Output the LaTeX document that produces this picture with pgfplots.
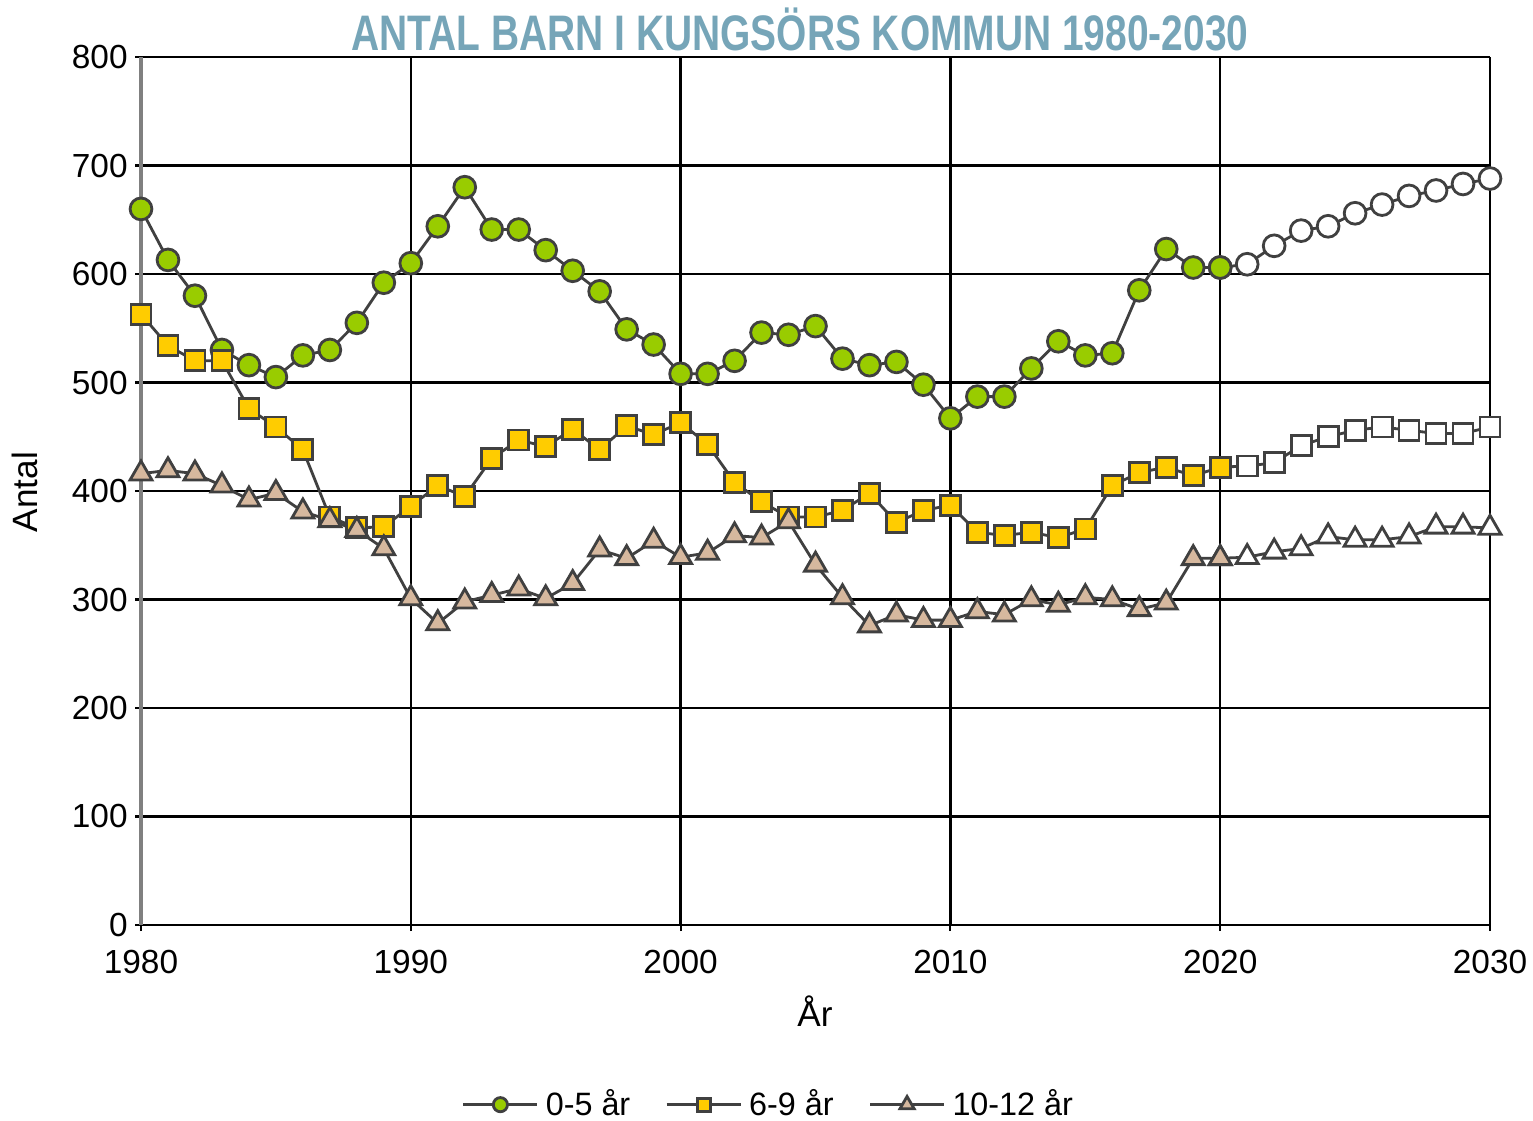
\documentclass[border=0pt]{standalone}
\usepackage{fontspec}
\setmainfont{Liberation Sans}
\newfontfamily\titlefont{Liberation Sans}[FakeStretch=0.78]
\usepackage{pgfplots}
\pgfplotsset{compat=1.18}
\definecolor{cgreen}{RGB}{153,204,0}
\definecolor{cyellow}{RGB}{255,204,0}
\definecolor{ctan}{RGB}{214,184,158}
\definecolor{cedge}{RGB}{64,64,64}
\definecolor{ctitle}{RGB}{118,165,184}
\begin{document}
\begin{tikzpicture}
\begin{axis}[
  scale only axis, width=134.9mm, height=86.8mm,
  at={(0,0)}, anchor=south west,
  xmin=1980, xmax=2030, ymin=0, ymax=800,
  xtick={1980,1990,...,2030}, ytick={0,100,...,800},
  axis lines=left, axis line style={-},
  x axis line style={black, line width=0.7pt},
  y axis line style={gray, line width=1.4pt},
  grid=major, major grid style={black, line width=0.7pt},
  tick style={black, line width=0.6pt}, tick align=center, major tick length=1.2mm,
  xticklabel style={font=\fontsize{9.5}{10}\selectfont, yshift=-0.7mm},
  yticklabel style={font=\fontsize{9.5}{10}\selectfont, xshift=0.5mm},
  /pgf/number format/assume math mode=true,
  /pgf/number format/set thousands separator={},
  clip=false,
  legend columns=3,
  legend style={at={(0.467,-0.207)}, anchor=center, draw=none, fill=none,
    font=\fontsize{9.2}{10}\selectfont, /tikz/every even column/.append style={column sep=2.8mm}},
  legend image code/.code={\draw[mark repeat=2,mark phase=2,#1,every mark/.append style={scale=0.65}] plot coordinates {(0cm,0cm) (0.37cm,0cm) (0.74cm,0cm)};},
  every axis plot/.append style={line width=0.8pt, color=cedge},
]
% projections (white markers)
\addplot[forget plot, mark=*, mark size=3.1pt, mark options={fill=white, draw=cedge, line width=0.8pt}] coordinates {
(2020,606)(2021,609)(2022,626)(2023,640)(2024,644)(2025,656)(2026,664)(2027,672)(2028,677)(2029,683)(2030,688)};
\addplot[forget plot, mark=square*, mark size=2.85pt, mark options={fill=white, draw=cedge, line width=0.8pt}] coordinates {
(2020,422)(2021,423)(2022,426)(2023,442)(2024,450)(2025,456)(2026,459)(2027,456)(2028,453)(2029,453)(2030,459)};
\addplot[forget plot, mark=triangle*, mark size=3.6pt, mark options={fill=white, draw=cedge, line width=0.8pt}] coordinates {
(2020,338)(2021,339)(2022,344)(2023,347)(2024,358)(2025,355)(2026,355)(2027,358)(2028,367)(2029,367)(2030,366)};
% history
\addplot[mark=*, mark size=3.1pt, mark options={fill=cgreen, draw=cedge, line width=0.8pt}] coordinates {
(1980,660)(1981,613)(1982,580)(1983,530)(1984,516)(1985,505)(1986,525)(1987,530)(1988,555)(1989,592)
(1990,610)(1991,644)(1992,680)(1993,641)(1994,641)(1995,622)(1996,603)(1997,584)(1998,549)(1999,535)
(2000,508)(2001,508)(2002,520)(2003,546)(2004,544)(2005,552)(2006,522)(2007,516)(2008,519)(2009,498)
(2010,467)(2011,487)(2012,487)(2013,513)(2014,538)(2015,525)(2016,527)(2017,585)(2018,623)(2019,606)(2020,606)};
\addlegendentry{0-5 år}
\addplot[mark=square*, mark size=2.85pt, mark options={fill=cyellow, draw=cedge, line width=0.8pt}] coordinates {
(1980,563)(1981,534)(1982,520)(1983,520)(1984,476)(1985,459)(1986,438)(1987,376)(1988,366)(1989,367)
(1990,386)(1991,405)(1992,395)(1993,430)(1994,447)(1995,441)(1996,457)(1997,438)(1998,460)(1999,452)
(2000,463)(2001,443)(2002,408)(2003,390)(2004,376)(2005,376)(2006,382)(2007,398)(2008,371)(2009,382)
(2010,387)(2011,362)(2012,359)(2013,362)(2014,357)(2015,365)(2016,405)(2017,417)(2018,422)(2019,414)(2020,422)};
\addlegendentry{6-9 år}
\addplot[mark=triangle*, mark size=3.6pt, mark options={fill=ctan, draw=cedge, line width=0.8pt}] coordinates {
(1980,416)(1981,419)(1982,416)(1983,405)(1984,392)(1985,398)(1986,381)(1987,373)(1988,364)(1989,347)
(1990,301)(1991,278)(1992,298)(1993,304)(1994,310)(1995,301)(1996,315)(1997,346)(1998,338)(1999,354)
(2000,339)(2001,343)(2002,359)(2003,357)(2004,372)(2005,332)(2006,302)(2007,276)(2008,286)(2009,281)
(2010,281)(2011,289)(2012,286)(2013,300)(2014,295)(2015,302)(2016,300)(2017,291)(2018,297)(2019,338)(2020,338)};
\addlegendentry{10-12 år}
\end{axis}
\node[font=\titlefont\bfseries\fontsize{14.2}{15}\selectfont, text=ctitle] at (65.9mm,89.6mm) {ANTAL BARN I KUNGSÖRS KOMMUN 1980-2030};
\node[font=\fontsize{10}{11}\selectfont, rotate=90] at (-11.6mm,43.3mm) {Antal};
\node[font=\fontsize{10}{11}\selectfont] at (67.4mm,-8.6mm) {År};
\pgfresetboundingbox
\path[use as bounding box] (-14.1mm,-19.5mm) rectangle (139.2mm,92.5mm);
\end{tikzpicture}
\end{document}
